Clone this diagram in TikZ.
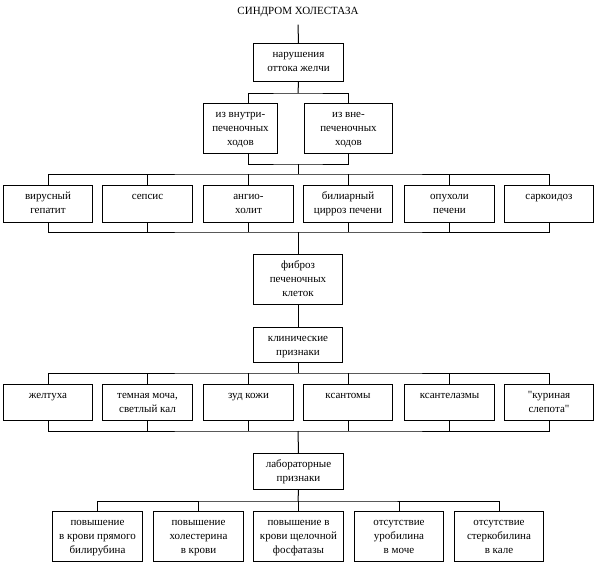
\documentclass[tikz,border=0pt]{standalone}
\usepackage{fontspec}
\setmainfont{Liberation Serif}
\newcommand{\kletka}[3]{\parbox[c][#2][t]{#1}{\centering\rule{0pt}{13.5pt}#3}}
\tikzset{
  blok/.style={draw, line width=1pt, inner sep=0pt, anchor=north west, font=\fontsize{11}{14}\selectfont},
  svyaz/.style={line width=1pt},
}

\begin{document}
\begin{tikzpicture}[x=1pt,y=-1pt]
\useasboundingbox (0,0) rectangle (595,563);
\node[font=\fontsize{11}{14}\selectfont, inner ysep=7.5pt] (title) at (298,12) {СИНДРОМ ХОЛЕСТАЗА};
\node[blok] (nar) at (253,43) {\kletka{90pt}{38pt}{нарушения\\оттока желчи}};
\node[blok] (vnutri) at (203,103) {\kletka{74pt}{50pt}{из внутри-\\печеночных\\ходов}};
\node[blok] (vne) at (304,103) {\kletka{88pt}{50pt}{из вне-\\печеночных\\ходов}};
\coordinate (vv) at (248,0);
\node[blok] (virus) at (3,185) {\kletka{89pt}{37pt}{вирусный\\гепатит}};
\node[blok] (sepsis) at (102,185) {\kletka{90pt}{37pt}{сепсис}};
\node[blok] (angio) at (203,185) {\kletka{90pt}{37pt}{ангио-\\холит}};
\node[blok] (cirroz) at (303,185) {\kletka{89pt}{37pt}{билиарный\\цирроз печени}};
\node[blok] (opuhol) at (404,185) {\kletka{90pt}{37pt}{опухоли\\печени}};
\node[blok] (sarkoid) at (504,185) {\kletka{89pt}{37pt}{саркоидоз}};
\node[blok] (fibroz) at (253,254) {\kletka{89pt}{50pt}{фиброз\\печеночных\\клеток}};
\node[blok] (klin) at (253,327) {\kletka{89pt}{35pt}{клинические\\признаки}};
\node[blok] (zheltuha) at (3,384) {\kletka{89pt}{36pt}{желтуха}};
\node[blok] (mocha) at (102,384) {\kletka{90pt}{36pt}{темная моча,\\светлый кал}};
\node[blok] (zud) at (203,384) {\kletka{90pt}{36pt}{зуд кожи}};
\node[blok] (ksantom) at (303,384) {\kletka{89pt}{36pt}{ксантомы}};
\node[blok] (ksantel) at (404,384) {\kletka{90pt}{36pt}{ксантелазмы}};
\node[blok] (kurin) at (504,384) {\kletka{89pt}{36pt}{\textquotedbl куриная\\слепота\textquotedbl}};
\node[blok] (lab) at (253,453) {\kletka{90pt}{36pt}{лабораторные\\признаки}};
\node[blok] (bilir) at (52,511) {\kletka{90pt}{50pt}{повышение\\в крови прямого\\билирубина}};
\node[blok] (holest) at (153,511) {\kletka{90pt}{50pt}{повышение\\холестерина\\в крови}};
\node[blok] (fosf) at (253,511) {\kletka{90pt}{50pt}{повышение в\\крови щелочной\\фосфатазы}};
\node[blok] (urob) at (354,511) {\kletka{89pt}{50pt}{отсутствие\\уробилина\\в моче}};
\node[blok] (sterk) at (454,511) {\kletka{89pt}{50pt}{отсутствие\\стеркобилина\\в кале}};
\coordinate (s0) at (298,93);
\coordinate (s1) at (298,164);
\coordinate (s2) at (298,174);
\coordinate (s3) at (298,232);
\coordinate (s4) at (298,373);
\coordinate (s5) at (298,431);
\coordinate (s6) at (298,501);
\draw[svyaz] (title.south) -- (nar.north);
\draw[svyaz] (nar.south) -- (s0);
\draw[svyaz] (vnutri.north -| vv) |- (s0) -| (vne.north);
\draw[svyaz] (vnutri.south -| vv) |- (s1) -| (vne.south);
\draw[svyaz] (s1) -- (s2);
\draw[svyaz] (virus.north) |- (s2) -| (sarkoid.north);
\draw[svyaz] (sepsis.north) -- (sepsis.north |- s2);
\draw[svyaz] (angio.north) -- (angio.north |- s2);
\draw[svyaz] (cirroz.north) -- (cirroz.north |- s2);
\draw[svyaz] (opuhol.north) -- (opuhol.north |- s2);
\draw[svyaz] (virus.south) |- (s3) -| (sarkoid.south);
\draw[svyaz] (sepsis.south) -- (sepsis.south |- s3);
\draw[svyaz] (angio.south) -- (angio.south |- s3);
\draw[svyaz] (cirroz.south) -- (cirroz.south |- s3);
\draw[svyaz] (opuhol.south) -- (opuhol.south |- s3);
\draw[svyaz] (s3) -- (fibroz.north);
\draw[svyaz] (fibroz.south) -- (klin.north);
\draw[svyaz] (klin.south) -- (s4);
\draw[svyaz] (zheltuha.north) |- (s4) -| (kurin.north);
\draw[svyaz] (mocha.north) -- (mocha.north |- s4);
\draw[svyaz] (zud.north) -- (zud.north |- s4);
\draw[svyaz] (ksantom.north) -- (ksantom.north |- s4);
\draw[svyaz] (ksantel.north) -- (ksantel.north |- s4);
\draw[svyaz] (zheltuha.south) |- (s5) -| (kurin.south);
\draw[svyaz] (mocha.south) -- (mocha.south |- s5);
\draw[svyaz] (zud.south) -- (zud.south |- s5);
\draw[svyaz] (ksantom.south) -- (ksantom.south |- s5);
\draw[svyaz] (ksantel.south) -- (ksantel.south |- s5);
\draw[svyaz] (s5) -- (lab.north);
\draw[svyaz] (lab.south) -- (s6);
\draw[svyaz] (bilir.north) |- (s6) -| (sterk.north);
\draw[svyaz] (holest.north) -- (holest.north |- s6);
\draw[svyaz] (fosf.north) -- (fosf.north |- s6);
\draw[svyaz] (urob.north) -- (urob.north |- s6);
\end{tikzpicture}
\end{document}
